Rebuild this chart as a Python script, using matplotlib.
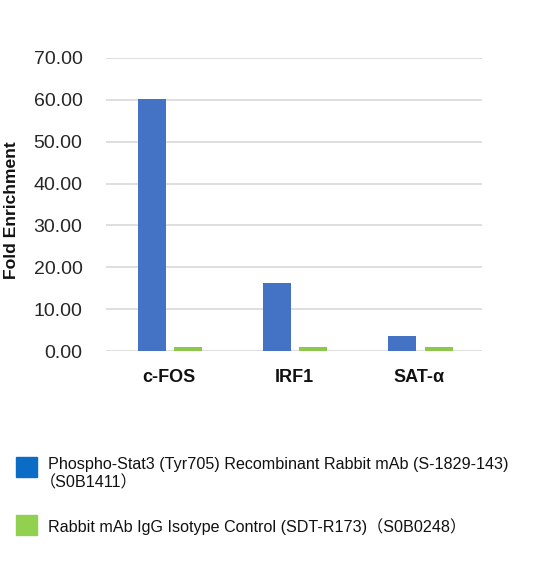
import matplotlib
matplotlib.use("Agg")
import matplotlib.pyplot as plt
from matplotlib.patches import Rectangle
import numpy as np

categories = ["c-FOS", "IRF1", "SAT-α"]
stat3_values = [60.1, 16.3, 3.5]
igg_values = [1.0, 1.0, 1.0]
series_names = ["Phospho-Stat3 (Tyr705) Recombinant Rabbit mAb (S-1829-143)\n（S0B1411）",
                "Rabbit mAb IgG Isotype Control (SDT-R173)（S0B0248）"]
yticks = [0, 10, 20, 30, 40, 50, 60, 70]

bar_blue = "#4472C4"
bar_green = "#8CC84B"
leg_blue = "#0A6CC4"
leg_green = "#92D050"

plt.rcParams['font.family'] = ['Liberation Sans', 'Noto Sans CJK JP', 'DejaVu Sans']

W, H = 538, 565
fig = plt.figure(figsize=(W/100, H/100), dpi=100)
ax = fig.add_axes([106/W, (H-351)/H, (482-106)/W, (351-58)/H])

x = np.arange(len(categories))
bw = 0.223
off = 0.145
ax.bar(x - off + 0.01, stat3_values, bw, color=bar_blue, zorder=3)
ax.bar(x + off + 0.01, igg_values, bw, color=bar_green, zorder=3)

ax.set_xlim(-0.5, 2.5)
ax.set_ylim(0, 70)
ax.set_yticks(yticks)
ax.set_yticklabels([f"{v:.2f}" for v in yticks], fontsize=14, color="#262626")
ax.set_xticks(x)
ax.set_xticklabels(categories, fontsize=13, fontweight="bold", color="#111111")
ax.tick_params(axis='y', length=0, pad=17)
ax.tick_params(axis='x', length=0, pad=13)
ax.grid(axis='y', color="#D9D9D9", linewidth=1.2, zorder=0)
for s in ax.spines.values():
    s.set_visible(False)
ax.set_ylabel("Fold Enrichment", fontsize=12.6, fontweight="bold", color="#111111")
ax.yaxis.set_label_coords(-(106-19)/376, 0.48)

# legend
fig.patches.append(Rectangle((16/W, (H-477)/H), 21/W, 20/H, transform=fig.transFigure,
                             color=leg_blue))
fig.patches.append(Rectangle((16/W, (H-535)/H), 21/W, 20/H, transform=fig.transFigure,
                             color=leg_green))
line1, line2 = series_names[0].split("\n")
fig.text(48/W, (H-464)/H, line1, fontsize=11.6, va="center", ha="left", color="#111111")
fig.text(40/W, (H-483)/H, line2, fontsize=11.6, va="center", ha="left", color="#111111")
fig.text(48/W, (H-527)/H, series_names[1], fontsize=11.6, va="center", ha="left",
         color="#111111")

fig.savefig("out.png", dpi=100)
